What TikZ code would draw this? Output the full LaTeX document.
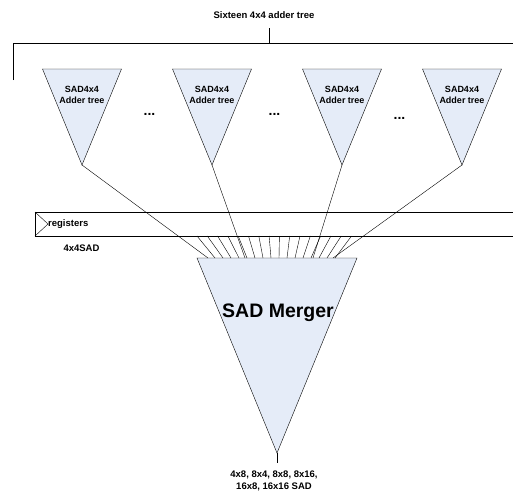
\documentclass[tikz,border=0pt]{standalone}
\usepackage{fontspec}
\setmainfont{Liberation Sans}
\usetikzlibrary{positioning}
\definecolor{treefill}{RGB}{229,236,248}
\tikzset{line width=0.7pt, % thin lines as in the drawing
every node/.style={inner sep=0pt, font=\bfseries\fontsize{9.5}{12}\selectfont}, % bold sans text for each node
}

\begin{document}
\begin{tikzpicture}[x=1pt, y=-1pt,
	TREE/.style={draw, fill=treefill},
	LBL/.style={align=center},
	DOTS/.style={font=\bfseries\fontsize{14}{14}\selectfont}]
\useasboundingbox (0,0) rectangle (513,493);
% bracket over the sixteen trees
\node (title) at (264,15) {Sixteen 4x4 adder tree};
\coordinate (bt) at (269,28);
\coordinate (bm) at (269,43.5);
\coordinate (bl) at (13,43.5);
\coordinate (br) at (514,43.5);
\coordinate (bd) at (13,80);
\draw (bt) -- (bm);
\draw (bd) -- (bl) -- (br);
% the 4x4 trees
\foreach \i/\x in {1/82,2/212,3/342,4/462}{
	\draw[TREE] (\x-39.5,69) -- (\x+39.5,69) -- (\x,165) coordinate (a\i) -- cycle;
	\node[LBL, font=\bfseries\fontsize{9}{11}\selectfont] (t\i) at (\x,94.5) {SAD4x4\\Adder tree};
}
\node[DOTS] (d1) at (149.5,114) {...};
\node[DOTS] (d2) at (274.5,114) {...};
\node[DOTS] (d3) at (399.5,118) {...};
% registers
\coordinate (rtl) at (35,212);
\coordinate (rbr) at (514,236);
\coordinate (clk) at (48,224);
\coordinate (rbl) at (35,236);
\draw (rtl) rectangle (rbr);
\draw (rtl) -- (clk) -- (rbl);
\node[anchor=west] (reg) at (clk) {registers};
\node (sad) at (81.5,248) {4x4SAD};
% merger
\draw[TREE] (197,258) coordinate (ml) -- (357,258) coordinate (mr) -- (277,453) coordinate (mo) -- cycle;
\node[font=\bfseries\fontsize{19.5}{22}\selectfont] (merger) at (278,313) {SAD Merger};
\coordinate (out) at (277,463);
\draw (mo) -- (out);
\node[LBL] (res) at (274,481) {4x8, 8x4, 8x8, 8x16,\\16x8, 16x16 SAD};
% sixteen 4x4 SAD into the merger
\foreach \i in {0,...,15}{
	\coordinate (f\i) at (197+10.3*\i,236);
	\coordinate (g\i) at (215+8*\i,258);
	\draw (f\i) -- (g\i);
}
\foreach \i/\x in {1/208,2/245,3/313,4/333}{
	\coordinate (m\i) at (\x,258);
	\draw (a\i) -- (m\i);
}
\end{tikzpicture}
\end{document}
